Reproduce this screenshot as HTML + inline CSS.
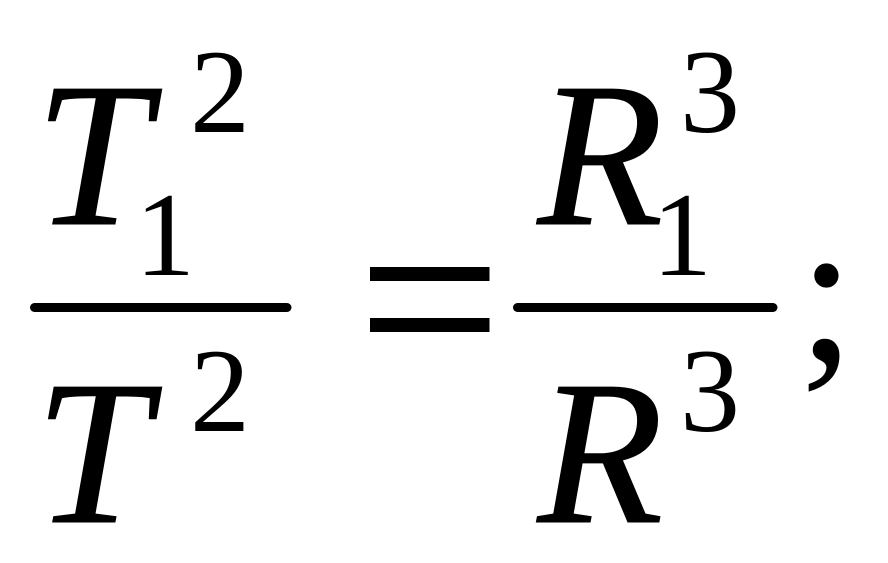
<!DOCTYPE html>
<html><head><meta charset="utf-8"><style>
html,body{margin:0;padding:0;background:#fff;width:888px;height:563px;overflow:hidden}
svg{display:block}
text{font-family:"Liberation Serif",serif;fill:#000}
.i{font-style:italic;font-size:206px;stroke:#000;stroke-width:1}
.n{font-size:120px}
</style></head><body>
<svg width="888" height="563" viewBox="0 0 888 563" xmlns="http://www.w3.org/2000/svg">
<rect width="888" height="563" fill="#fff"/>
<text class="i" x="35" y="224">T</text>
<text class="n" x="190" y="132">2</text>
<text class="n" x="135" y="275">1</text>
<rect x="30" y="303" width="261.500" height="9" rx="4.5" fill="#000"/>
<text class="i" x="35" y="522">T</text>
<text class="n" x="190" y="431">2</text>
<rect x="370" y="267" width="119.500" height="14" fill="#000"/>
<rect x="370" y="318" width="119.500" height="14" fill="#000"/>
<text class="i" x="537.500" y="224">R</text>
<text class="n" x="680" y="132">3</text>
<text class="n" x="652" y="275">1</text>
<rect x="513" y="303" width="264.500" height="9" rx="4.5" fill="#000"/>
<text class="i" x="537.500" y="522">R</text>
<text class="n" x="680" y="431">3</text>
<text x="798" y="360" style="font-size:206px">;</text>
</svg>
</body></html>
